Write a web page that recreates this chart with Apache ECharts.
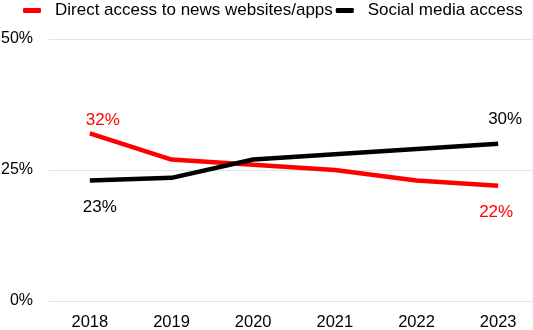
<!DOCTYPE html>
<html><head><meta charset="utf-8">
<script src="https://cdn.jsdelivr.net/npm/echarts@6/dist/echarts.min.js"></script>
<style>html,body{margin:0;padding:0;background:#fff}#c{width:533px;height:330px}</style>
</head><body><div id="c"></div>
<script>
const years = ['2018','2019','2020','2021','2022','2023'];
const directAccess = [32, 27, 26, 25, 23, 22];
const socialAccess = [23, 23.5, 27, 28, 29, 30];
const yTicks = [0, 25, 50];
const seriesNames = ['Direct access to news websites/apps', 'Social media access'];

function build(vals, color, labels) {
  return vals.map((v, i) => {
    const l = labels[i];
    if (!l) return v;
    return { value: v, label: { show: true, position: l.pos, offset: l.off, color: color, fontSize: 17, formatter: '{c}%' } };
  });
}

const chart = echarts.init(document.getElementById('c'));
chart.setOption({
  animation: false,
  textStyle: { fontFamily: 'Liberation Sans, Arial, sans-serif' },
  legend: {
    top: 2, left: 23, padding: 0, itemGap: 3, itemWidth: 18, itemHeight: 5, icon: 'roundRect',
    textStyle: { fontSize: 17, color: '#000', padding: [0, 0, 0, 9], fontFamily: 'Liberation Sans, Arial, sans-serif' },
    data: seriesNames
  },
  grid: { left: 49, top: 39, width: 490, height: 262, containLabel: false, outerBoundsMode: 'none' },
  xAxis: {
    type: 'category', data: years, boundaryGap: true,
    axisLine: { show: false }, axisTick: { show: false },
    axisLabel: { fontSize: 16.5, color: '#000', margin: 13 }
  },
  yAxis: {
    type: 'value', min: 0, max: 50, interval: 25,
    axisLine: { show: false }, axisTick: { show: false },
    axisLabel: { fontSize: 16, color: '#000', margin: 16, formatter: v => yTicks.includes(v) ? v + '%' : '' },
    splitLine: { lineStyle: { color: '#e3e3e3', width: 1 } }
  },
  series: [
    {
      name: seriesNames[0], type: 'line', showSymbol: true, symbol: 'circle', symbolSize: 0.1,
      lineStyle: { color: '#ff0000', width: 4.5 }, itemStyle: { color: '#ff0000' },
      emphasis: { disabled: true },
      data: build(directAccess, '#ff0000', { 0: { pos: 'top', off: [13, 1] }, 5: { pos: 'bottom', off: [-2, 13] } })
    },
    {
      name: seriesNames[1], type: 'line', showSymbol: true, symbol: 'circle', symbolSize: 0.1,
      lineStyle: { color: '#000000', width: 4.5 }, itemStyle: { color: '#000000' },
      emphasis: { disabled: true },
      data: build(socialAccess, '#000000', { 0: { pos: 'bottom', off: [10, 13] }, 5: { pos: 'top', off: [7, -11] } })
    }
  ]
});
</script></body></html>
